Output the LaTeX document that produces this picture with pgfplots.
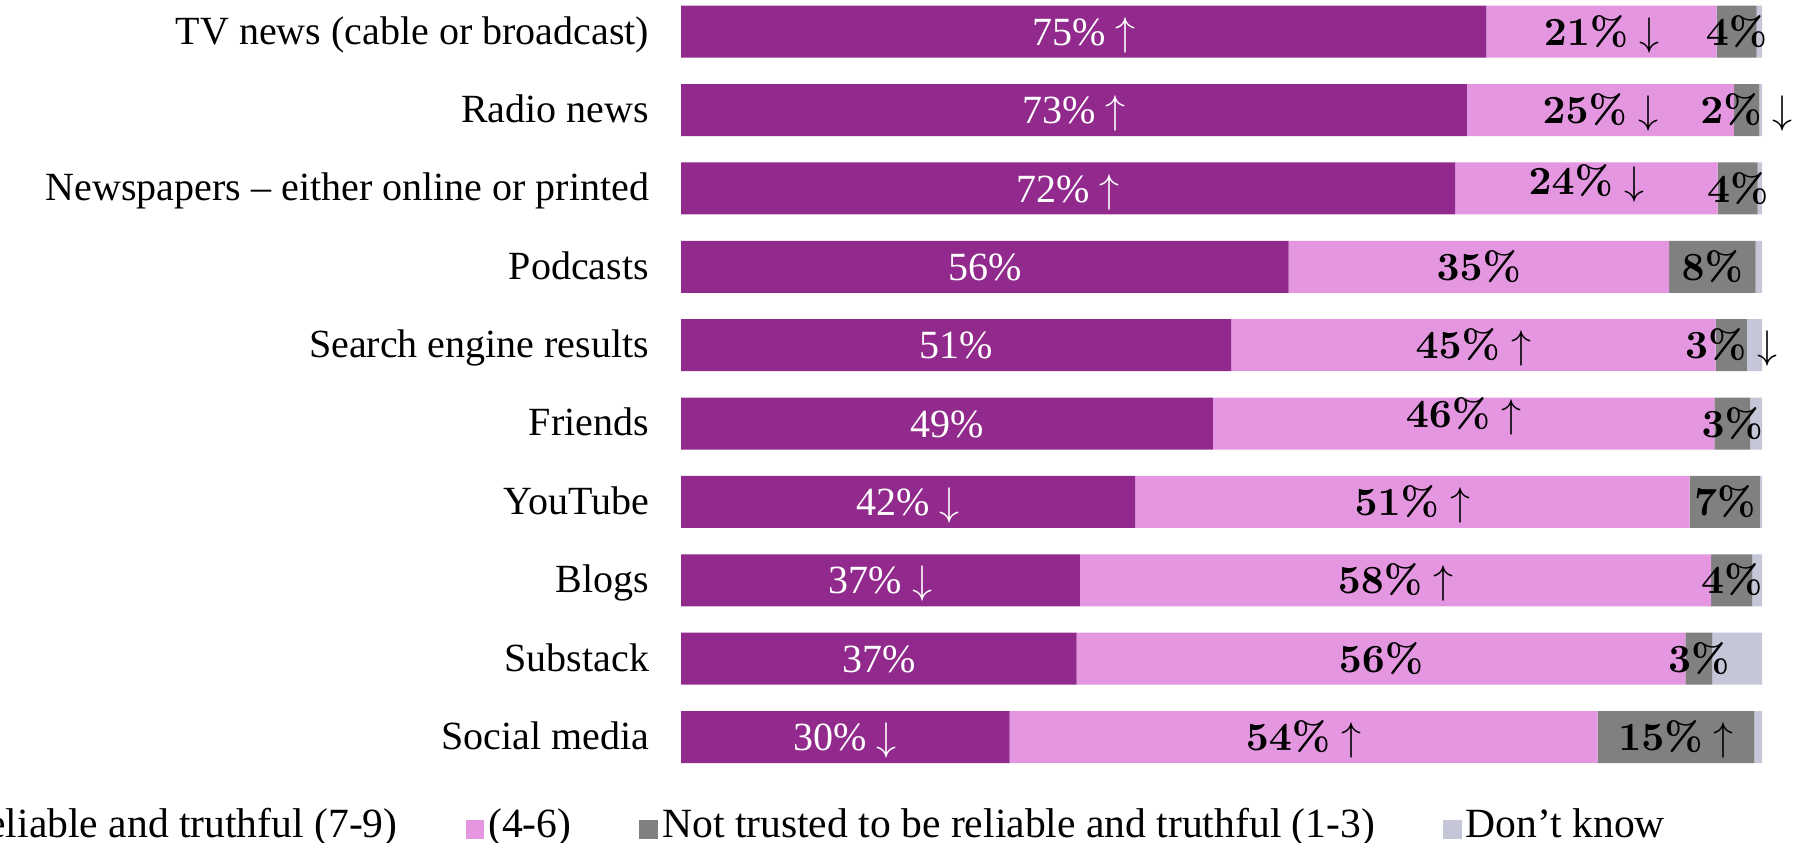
\documentclass[border=0pt]{standalone}
\usepackage[no-math]{fontspec}
\setmainfont{Liberation Serif}
\usepackage{pgfplots}
\pgfplotsset{compat=1.18}
\definecolor{cTrust}{HTML}{912A8C}
\definecolor{cMid}{HTML}{E497E0}
\definecolor{cNot}{HTML}{808080}
\definecolor{cDK}{HTML}{C6C6D9}
\pgfplotsset{
  sq/.style={legend image code/.code={\fill[##1] (0pt,-0.3pt) rectangle (4.7pt,4.4pt);}},
  common/.style={
    scale only axis, width=270.25pt, height=210.75pt,
    xmin=0, xmax=100, ymin=-1.352, ymax=9.4045,
    at={(170.25pt,0pt)}, anchor=south west,
    axis line style={draw=none}, tick style={draw=none}, major tick length=0pt,
    xtick=\empty, clip=false,
  },
  lbl/.style={only marks, mark=text, text mark={}, point meta=explicit symbolic, nodes near coords,
    every node near coord/.append style={anchor=base, inner sep=0pt, yshift=-3.4pt, text=#1, font=\fontsize{10}{12}\selectfont}},
}
\begin{document}
\begin{tikzpicture}
\begin{axis}[common,
  xbar stacked, bar width=13pt,
  ytick={0,...,9},
  yticklabels={Social media, Substack, Blogs, YouTube, Friends, Search engine results, Podcasts, Newspapers – either online or printed, Radio news, TV news (cable or broadcast)},
  yticklabel style={font=\fontsize{10}{12}\selectfont, anchor=base east, inner sep=0pt, xshift=-7.8pt, yshift=-3.1pt},
  legend columns=4,
  legend style={draw=none, fill=none, at={(0.911,-0.002)}, anchor=south east, inner sep=0pt,
    font=\fontsize{10.4}{12}\selectfont, cells={anchor=base west}, nodes={inner sep=0pt},
    /tikz/every odd column/.append style={column sep=1pt},
    /tikz/every even column/.append style={column sep=17pt}},
]
\addplot[sq, fill=cTrust, draw=none] coordinates {(74.5,9) (72.7,8) (71.6,7) (56.2,6) (50.9,5) (49.2,4) (42.0,3) (36.9,2) (36.6,1) (30.4,0)};
\addplot[sq, fill=cMid, draw=none] coordinates {(21.3,9) (24.7,8) (24.3,7) (35.2,6) (44.8,5) (46.4,4) (51.3,3) (58.4,2) (56.3,1) (54.4,0)};
\addplot[sq, fill=cNot, draw=none] coordinates {(3.7,9) (2.35,8) (3.7,7) (8.0,6) (2.9,5) (3.3,4) (6.5,3) (3.8,2) (2.5,1) (14.5,0)};
\addplot[sq, fill=cDK, draw=none] coordinates {(0.5,9) (0.25,8) (0.4,7) (0.6,6) (1.4,5) (1.1,4) (0.2,3) (0.9,2) (4.6,1) (0.7,0)};
\legend{Trusted to be reliable and truthful (7-9), (4-6), Not trusted to be reliable and truthful (1-3), Don’t know}
\end{axis}
\begin{axis}[common, ytick=\empty]
\addplot[lbl=white] coordinates {
(37.25,9) [75\%~$\uparrow$]
(36.35,8) [73\%~$\uparrow$]
(35.8,7) [72\%~$\uparrow$]
(28.1,6) [56\%]
(25.45,5) [51\%]
(24.6,4) [49\%]
(21.0,3) [42\%~$\downarrow$]
(18.45,2) [37\%~$\downarrow$]
(18.3,1) [37\%]
(15.2,0) [30\%~$\downarrow$]
};
\addplot[lbl=black] coordinates {
(85.15,9) [$\mathbf{21\mathchar"7025}\;\mathord{\downarrow}$]
(97.65,9) [$\mathbf{4\mathchar"7025}$]
(85.05,8) [$\mathbf{25\mathchar"7025}\;\mathord{\downarrow}$]
(98.575,8) [$\mathbf{2\mathchar"7025}\;\mathord{\downarrow}$]
(83.75,7) [\raisebox{1.8pt}{$\mathbf{24\mathchar"7025}\;\mathord{\downarrow}$}]
(97.75,7) [$\mathbf{4\mathchar"7025}$]
(73.8,6) [$\mathbf{35\mathchar"7025}$]
(95.4,6) [$\mathbf{8\mathchar"7025}$]
(73.3,5) [$\mathbf{45\mathchar"7025}\;\mathord{\uparrow}$]
(97.15,5) [$\mathbf{3\mathchar"7025}\;\mathord{\downarrow}$]
(72.4,4) [\raisebox{2.5pt}{$\mathbf{46\mathchar"7025}\;\mathord{\uparrow}$}]
(97.25,4) [$\mathbf{3\mathchar"7025}$]
(67.65,3) [$\mathbf{51\mathchar"7025}\;\mathord{\uparrow}$]
(96.55,3) [$\mathbf{7\mathchar"7025}$]
(66.1,2) [$\mathbf{58\mathchar"7025}\;\mathord{\uparrow}$]
(97.2,2) [$\mathbf{4\mathchar"7025}$]
(64.75,1) [$\mathbf{56\mathchar"7025}$]
(94.15,1) [$\mathbf{3\mathchar"7025}$]
(57.6,0) [$\mathbf{54\mathchar"7025}\;\mathord{\uparrow}$]
(92.05,0) [$\mathbf{15\mathchar"7025}\;\mathord{\uparrow}$]
};
\end{axis}
\pgfresetboundingbox
\path[use as bounding box] (0,0) rectangle (451.5pt,210.75pt);
\end{tikzpicture}
\end{document}
